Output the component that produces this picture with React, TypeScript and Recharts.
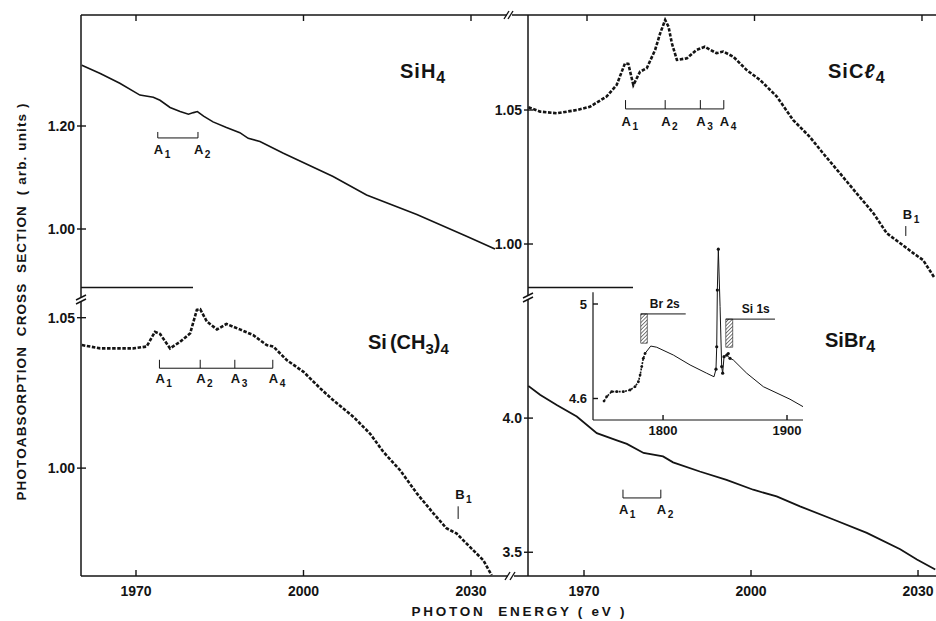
import React from 'react';
import { ComposedChart, Line, XAxis, YAxis, ReferenceLine, ReferenceDot, ReferenceArea } from 'recharts';

const INK = '#141414';
const FONT = "'Liberation Sans', Arial, Helvetica, sans-serif";

// ---------------- data ----------------
const xTicks = [1970, 2000, 2030];
const insetXTicks = [1800, 1900];

// SiH4 (top left)
const siH4E = [1960.3, 1963.6, 1967.1, 1970.7, 1973.1, 1974.3, 1976.1, 1977.9, 1979.4, 1980.3, 1981.0, 1982.1, 1983.8, 1986.2, 1988.6, 1990.1, 1992.2, 1996.4, 2005.3, 2011.3, 2020.3, 2029.2, 2034.3];
const siH4V = [1.318, 1.302, 1.283, 1.260, 1.256, 1.250, 1.236, 1.228, 1.223, 1.226, 1.228, 1.219, 1.208, 1.197, 1.187, 1.176, 1.170, 1.147, 1.102, 1.066, 1.028, 0.986, 0.961];
const siH4YTicks = [1.0, 1.2];
const siH4Marks = [1973.9, 1981.1];
const siH4MarkLevel = [1.1768, 1.1884];

// SiCl4 (top right)
const siCl4E = [1959.5, 1961.6, 1964.6, 1968.2, 1970.5, 1973.5, 1975.3, 1976.8, 1977.4, 1978.3, 1979.5, 1980.7, 1982.2, 1983.1, 1984.0, 1984.6, 1985.2, 1986.1, 1987.9, 1989.6, 1991.1, 1993.2, 1994.4, 1996.2, 1998.6, 2001.0, 2004.0, 2006.9, 2009.9, 2012.3, 2015.3, 2018.3, 2021.3, 2023.7, 2026.1, 2028.5, 2030.2, 2032.3];
const siCl4V = [1.051, 1.0494, 1.0488, 1.05, 1.0512, 1.055, 1.0593, 1.0674, 1.0672, 1.0593, 1.0643, 1.0656, 1.0724, 1.0786, 1.0836, 1.0811, 1.0749, 1.0687, 1.0693, 1.0724, 1.0736, 1.0712, 1.0718, 1.0699, 1.0649, 1.0612, 1.055, 1.0463, 1.04, 1.0338, 1.0264, 1.0189, 1.0115, 1.004, 1.0003, 0.9965, 0.994, 0.9872];
const siCl4YTicks = [1.0, 1.05];
const siCl4Marks = [1976.9, 1984.0, 1990.3, 1994.5];
const siCl4MarkLevel = [1.0504, 1.0537];
const siCl4B1 = [2027.1, 1.003, 1.0067];

// Si(CH3)4 (bottom left)
const tmsE = [1960.3, 1963.6, 1966.5, 1969.5, 1971.9, 1973.4, 1974.3, 1976.1, 1977.9, 1979.7, 1980.9, 1981.5, 1982.7, 1984.5, 1986.2, 1988.6, 1991.0, 1993.4, 1994.6, 1997.0, 2000.0, 2003.0, 2005.3, 2008.9, 2011.9, 2014.3, 2017.3, 2020.3, 2023.3, 2025.6, 2027.4, 2029.8, 2032.2, 2033.7];
const tmsV = [1.0409, 1.0398, 1.0398, 1.0398, 1.0404, 1.0453, 1.0446, 1.0398, 1.042, 1.0448, 1.0526, 1.0528, 1.0487, 1.0461, 1.0479, 1.0461, 1.0442, 1.0409, 1.0404, 1.0359, 1.032, 1.0265, 1.0226, 1.0171, 1.0115, 1.0054, 0.9993, 0.9916, 0.9849, 0.98, 0.9783, 0.9738, 0.9694, 0.9644];
const tmsYTicks = [1.0, 1.05];
const tmsMarks = [1974.2, 1981.5, 1987.7, 1994.5];
const tmsMarkLevel = [1.0332, 1.036];
const tmsB1 = [2027.7, 0.9831, 0.9873];

// SiBr4 (bottom right)
const siBr4E = [1960.0, 1962.1, 1965.1, 1968.7, 1972.3, 1975.9, 1977.7, 1980.7, 1984.2, 1986.0, 1990.8, 1995.6, 2000.4, 2004.6, 2008.8, 2014.8, 2020.8, 2026.8, 2029.8, 2033.1];
const siBr4V = [4.12, 4.0867, 4.049, 4.006, 3.944, 3.917, 3.904, 3.87, 3.857, 3.835, 3.801, 3.77, 3.733, 3.708, 3.671, 3.622, 3.572, 3.511, 3.473, 3.436];
const siBr4YTicks = [3.5, 4.0];
const siBr4Marks = [1977.0, 1983.8];
const siBr4MarkLevel = [3.7024, 3.7333];

// SiBr4 wide-range inset
const insetDotE = [1752.4, 1754.6, 1758.6, 1762.7, 1768.0, 1773.4, 1777.4, 1780.1, 1781.5, 1782.8, 1784.1, 1785.5];
const insetDotV = [4.589, 4.608, 4.629, 4.629, 4.629, 4.636, 4.65, 4.671, 4.699, 4.735, 4.77, 4.791];
const insetLineE = [1785.5, 1790.1, 1794.9, 1808.3, 1821.8, 1835.2, 1841.1, 1842.7, 1843.3, 1843.8, 1844.6, 1846.0, 1847.3, 1848.1, 1849.2, 1851.4, 1854.0, 1856.7, 1867.5, 1880.9, 1902.4, 1913.1];
const insetLineV = [4.791, 4.822, 4.817, 4.784, 4.742, 4.707, 4.692, 4.724, 4.819, 5.059, 5.232, 4.989, 4.735, 4.707, 4.777, 4.784, 4.77, 4.763, 4.707, 4.65, 4.597, 4.565];
const insetSpikeE = [1842.7, 1843.3, 1843.8, 1844.6, 1847.3, 1848.1, 1849.2, 1851.4, 1852.6, 1854.0];
const insetSpikeV = [4.724, 4.819, 5.059, 5.232, 4.735, 4.707, 4.777, 4.784, 4.79, 4.77];
const insetYTicks = [4.6, 5.0];
const edgeNames = ['Br 2s', 'Si 1s'];
const edgeStart = [1782.0, 1850.6];
const edgeBoxEnd = [1787.3, 1856.2];
const edgeLineEnd = [1818.3, 1890.3];
const edgeTop = [4.958, 4.936];
const edgeBottom = [4.834, 4.817];

const zip = (es: number[], vs: number[]) => es.map((e, i) => ({ e, v: vs[i] }));
const siH4 = zip(siH4E, siH4V);
const siCl4 = zip(siCl4E, siCl4V);
const tms = zip(tmsE, tmsV);
const siBr4 = zip(siBr4E, siBr4V);
const insetDots = zip(insetDotE, insetDotV);
const insetLine = zip(insetLineE, insetLineV);
const insetSpike = zip(insetSpikeE, insetSpikeV);

// ---------------- domains ----------------
const TL_X = [1960.15, 2036.27];
const TL_Y = [0.8874, 1.4155];
const TR_X = [1959.43, 2032.51];
const TR_Y = [0.98396, 1.08545];
const BL_X = [1960.15, 2036.27];
const BL_Y = [0.96414, 1.05521];
const BR_X = [1959.94, 2033.23];
const BR_Y = [3.4115, 4.4327];
const IN_X = [1743.5, 1912.9];
const IN_Y = [4.509, 5.2709];

// ---------------- ticks ----------------
const axisLine = { stroke: INK, strokeWidth: 1.5 };

const TopTick = (p: any) => (
  <line x1={p.x} y1={p.y} x2={p.x} y2={p.y + 6} stroke={INK} strokeWidth={1.4} />
);

const BottomTick = (size: number, up: number, off: number) => (p: any) => (
  <g>
    <line x1={p.x} y1={p.y} x2={p.x} y2={p.y - up} stroke={INK} strokeWidth={1.4} />
    <text x={p.x} y={p.y + off} textAnchor="middle" fontFamily={FONT} fontWeight="bold" fontSize={size} fill={INK}>
      {p.payload.value}
    </text>
  </g>
);

const fmtFixed = (digits: number) => (v: number) => v.toFixed(digits);
const fmtShort = (v: number) => (Math.abs(v - Math.round(v)) < 1e-9 ? String(Math.round(v)) : v.toFixed(1));

const LeftTick = (fmt: (v: number) => string, inward: boolean, size: number) => (p: any) => {
  const label = fmt(Number(p.payload.value));
  return (
    <g>
      <line x1={inward ? p.x : p.x - 4} y1={p.y} x2={p.x + 5} y2={p.y} stroke={INK} strokeWidth={1.4} />
      <text x={p.x - 6} y={p.y} dy="0.35em" textAnchor="end" fontFamily={FONT} fontWeight="bold" fontSize={size} fill={INK}>
        {label}
      </text>
    </g>
  );
};

// label drawn at a data point with a pixel offset
const subText = (main: string, sub: string, dx: number, dy: number, size = 13) => (p: any) => (
  <text x={p.cx + dx} y={p.cy + dy} fontFamily={FONT} fontWeight="bold" fontSize={size} fill={INK}>
    {main}
    <tspan fontSize={size * 0.78} dy={4} dx={1.5}>{sub}</tspan>
  </text>
);

const plainText = (t: string, dx: number, dy: number, size = 12) => (p: any) => (
  <text x={p.cx + dx} y={p.cy + dy} fontFamily={FONT} fontWeight="bold" fontSize={size} fill={INK}>
    {t}
  </text>
);

const thin = { stroke: INK, strokeWidth: 1 };

function bracket(marks: number[], level: number[], labelDy: number, keyp: string) {
  const out: any[] = [];
  out.push(
    <ReferenceLine key={keyp + 'h'} segment={[{ x: marks[0], y: level[0] }, { x: marks[marks.length - 1], y: level[0] }]} {...thin} ifOverflow="visible" />
  );
  marks.forEach((m, i) => {
    out.push(
      <ReferenceLine key={keyp + 't' + i} segment={[{ x: m, y: level[0] }, { x: m, y: level[1] }]} {...thin} ifOverflow="visible" />
    );
    out.push(
      <ReferenceDot key={keyp + 'l' + i} x={m} y={level[0]} r={0} ifOverflow="visible" shape={subText('A', String(i + 1), -4, labelDy)} />
    );
  });
  return out;
}

function bMark(b: number[], keyp: string) {
  return [
    <ReferenceLine key={keyp + 'bl'} segment={[{ x: b[0], y: b[1] }, { x: b[0], y: b[2] }]} {...thin} ifOverflow="visible" />,
    <ReferenceDot key={keyp + 'bt'} x={b[0]} y={b[2]} r={0} ifOverflow="visible" shape={subText('B', '1', -3, -7)} />,
  ];
}

const dotted = { stroke: INK, strokeWidth: 2.6, strokeDasharray: '3.5 1.6', dot: false, isAnimationActive: false, type: 'linear' as const };

const abs = (left: number, top: number): React.CSSProperties => ({ position: 'absolute', left, top });

export default function App() {
  return (
    <div style={{ position: 'absolute', left: 0, top: 0, width: 936, height: 621, overflow: 'hidden', background: '#fff' }}>
      {/* top left: SiH4 */}
      <div style={abs(0, 0)}>
        <ComposedChart width={520} height={300} margin={{ top: 0, right: 14, bottom: 13, left: 0 }}>
          <XAxis type="number" dataKey="e" orientation="top" domain={TL_X} allowDataOverflow ticks={xTicks} interval={0} height={15} tickSize={0} tickMargin={0} tickLine={false} axisLine={axisLine} tick={TopTick} />
          <YAxis type="number" domain={TL_Y} allowDataOverflow ticks={siH4YTicks} interval={0} width={81} tickSize={0} tickMargin={0} tickLine={false} axisLine={axisLine} tick={LeftTick(fmtFixed(2), false, 14)} />
          <Line data={siH4} dataKey="v" type="linear" stroke={INK} strokeWidth={1.6} dot={false} isAnimationActive={false} />
          {bracket(siH4Marks, siH4MarkLevel, 16, 'h')}
        </ComposedChart>
      </div>

      {/* top right: SiCl4 */}
      <div style={abs(470, 0)}>
        <ComposedChart width={466} height={300} margin={{ top: 0, right: 0, bottom: 13, left: 0 }}>
          <XAxis type="number" dataKey="e" orientation="top" domain={TR_X} allowDataOverflow ticks={xTicks} interval={0} height={15} tickSize={0} tickMargin={0} tickLine={false} axisLine={axisLine} tick={TopTick} />
          <YAxis type="number" domain={TR_Y} allowDataOverflow ticks={siCl4YTicks} interval={0} width={58} tickSize={0} tickMargin={0} tickLine={false} axisLine={axisLine} tick={LeftTick(fmtFixed(2), false, 14)} />
          <Line data={siCl4} dataKey="v" {...dotted} />
          {bracket(siCl4Marks, siCl4MarkLevel, 17, 'c')}
          {bMark(siCl4B1, 'c')}
        </ComposedChart>
      </div>

      {/* bottom left: Si(CH3)4 */}
      <div style={abs(0, 290)}>
        <ComposedChart width={520} height={331} margin={{ top: 12, right: 14, bottom: 15, left: 0 }}>
          <XAxis type="number" dataKey="e" orientation="bottom" domain={BL_X} allowDataOverflow ticks={xTicks} interval={0} height={30} tickSize={0} tickMargin={0} tickLine={false} axisLine={axisLine} tick={BottomTick(14, 6, 19.5)} />
          <YAxis type="number" domain={BL_Y} allowDataOverflow ticks={tmsYTicks} interval={0} width={81} tickSize={0} tickMargin={0} tickLine={false} axisLine={axisLine} tick={LeftTick(fmtFixed(2), false, 14)} />
          <Line data={tms} dataKey="v" {...dotted} />
          {bracket(tmsMarks, tmsMarkLevel, 15, 'm')}
          {bMark(tmsB1, 'm')}
        </ComposedChart>
      </div>

      {/* bottom right: SiBr4 */}
      <div style={abs(470, 290)}>
        <ComposedChart width={466} height={331} margin={{ top: 12, right: 0, bottom: 15, left: 0 }}>
          <XAxis type="number" dataKey="e" orientation="bottom" domain={BR_X} allowDataOverflow ticks={xTicks} interval={0} height={30} tickSize={0} tickMargin={0} tickLine={false} axisLine={axisLine} tick={BottomTick(14, 6, 19.5)} />
          <YAxis type="number" domain={BR_Y} allowDataOverflow ticks={siBr4YTicks} interval={0} width={58} tickSize={0} tickMargin={0} tickLine={false} axisLine={axisLine} tick={LeftTick(fmtFixed(1), false, 14)} />
          <Line data={siBr4} dataKey="v" type="linear" stroke={INK} strokeWidth={1.8} dot={false} isAnimationActive={false} />
          {bracket(siBr4Marks, siBr4MarkLevel, 16, 'b')}
        </ComposedChart>
      </div>

      {/* inset: SiBr4 wide range */}
      <div style={abs(560, 230)}>
        <ComposedChart width={250} height={215} margin={{ top: 10, right: 7, bottom: 0, left: 0 }}>
          <defs>
            <pattern id="hatch" width="2.6" height="2.6" patternUnits="userSpaceOnUse" patternTransform="rotate(45)">
              <line x1="0" y1="0" x2="0" y2="2.6" stroke={INK} strokeWidth="1.1" />
            </pattern>
          </defs>
          <XAxis type="number" dataKey="e" orientation="bottom" domain={IN_X} allowDataOverflow ticks={insetXTicks} interval={0} height={25} tickSize={0} tickMargin={0} tickLine={false} axisLine={{ stroke: INK, strokeWidth: 1.2 }} tick={BottomTick(13, 5, 14.5)} />
          <YAxis type="number" domain={IN_Y} allowDataOverflow ticks={insetYTicks} interval={0} width={33} tickSize={0} tickMargin={0} tickLine={false} axisLine={false} tick={LeftTick(fmtShort, true, 13)} />
          <ReferenceLine segment={[{ x: IN_X[0], y: IN_Y[0] }, { x: IN_X[0], y: 5.05 }]} stroke={INK} strokeWidth={1.2} ifOverflow="visible" />
          {edgeNames.map((n, i) => (
            <ReferenceArea key={'ea' + i} x1={edgeStart[i]} x2={edgeBoxEnd[i]} y1={edgeBottom[i]} y2={edgeTop[i]} fill="url(#hatch)" fillOpacity={1} stroke={INK} strokeWidth={0.6} ifOverflow="visible" />
          ))}
          {edgeNames.map((n, i) => (
            <ReferenceLine key={'el' + i} segment={[{ x: edgeStart[i], y: edgeTop[i] }, { x: edgeLineEnd[i], y: edgeTop[i] }]} {...thin} ifOverflow="visible" />
          ))}
          {edgeNames.map((n, i) => (
            <ReferenceDot key={'et' + i} x={edgeStart[i]} y={edgeTop[i]} r={0} ifOverflow="visible" shape={plainText(n, i === 0 ? 9 : 16, -6, 12)} />
          ))}
          <Line data={insetDots} dataKey="v" type="linear" stroke={INK} strokeWidth={1.6} strokeDasharray="2 1.2" dot={{ r: 1.4, fill: INK, stroke: 'none' }} isAnimationActive={false} />
          <Line data={insetLine} dataKey="v" type="linear" stroke={INK} strokeWidth={1} dot={false} isAnimationActive={false} />
          <Line data={insetSpike} dataKey="v" type="linear" stroke="none" dot={{ r: 1.6, fill: INK, stroke: 'none' }} isAnimationActive={false} />
        </ComposedChart>
      </div>

      {/* decorations: axis breaks, titles, compound names */}
      <svg width={936} height={621} style={{ position: 'absolute', left: 0, top: 0, pointerEvents: 'none' }}>
        {/* top axis connection with break */}
        <line x1={506} y1={15} x2={528} y2={15} stroke={INK} strokeWidth={1.5} />
        <rect x={507} y={11} width={5} height={8} fill="#fff" />
        <line x1={504} y1={19} x2={509} y2={11} stroke={INK} strokeWidth={1.4} />
        <line x1={508} y1={19} x2={513} y2={11} stroke={INK} strokeWidth={1.4} />
        {/* bottom axis connection with break */}
        <line x1={506} y1={576} x2={528} y2={576} stroke={INK} strokeWidth={1.5} />
        <rect x={508} y={572} width={6} height={8} fill="#fff" />
        <line x1={505} y1={580} x2={510} y2={572} stroke={INK} strokeWidth={1.4} />
        <line x1={510} y1={580} x2={515} y2={572} stroke={INK} strokeWidth={1.4} />
        {/* left column vertical axis break */}
        <line x1={81} y1={287} x2={81} y2={302} stroke={INK} strokeWidth={1.5} />
        <rect x={77} y={298} width={8} height={4} fill="#fff" />
        <line x1={76} y1={300} x2={86} y2={295} stroke={INK} strokeWidth={1.4} />
        <line x1={76} y1={304} x2={86} y2={299} stroke={INK} strokeWidth={1.4} />
        {/* right column vertical axis break */}
        <line x1={528} y1={287} x2={528} y2={302} stroke={INK} strokeWidth={1.5} />
        <rect x={524} y={296} width={8} height={4} fill="#fff" />
        <line x1={523} y1={298} x2={533} y2={293} stroke={INK} strokeWidth={1.4} />
        <line x1={523} y1={302} x2={533} y2={297} stroke={INK} strokeWidth={1.4} />
        {/* short bottom stubs of the upper panels */}
        <line x1={81} y1={287.5} x2={193} y2={287.5} stroke={INK} strokeWidth={1.3} />
        <line x1={528} y1={287.5} x2={633} y2={287.5} stroke={INK} strokeWidth={1.3} />

        {/* compound names */}
        <text x={400} y={78} fontFamily={FONT} fontWeight="bold" fontSize={20} fill={INK} letterSpacing={1}>
          SiH<tspan fontSize={16} dy={5}>4</tspan>
        </text>
        <text x={828} y={78} fontFamily={FONT} fontWeight="bold" fontSize={20} fill={INK} letterSpacing={1}>
          SiC<tspan fontStyle="italic">ℓ</tspan><tspan fontSize={16} dy={5}>4</tspan>
        </text>
        <text x={368} y={349} fontFamily={FONT} fontWeight="bold" fontSize={20} fill={INK}>
          Si<tspan dx={3}>(CH</tspan><tspan fontSize={15} dy={5}>3</tspan><tspan dy={-5}>)</tspan><tspan fontSize={15} dy={5}>4</tspan>
        </text>
        <text x={825} y={347} fontFamily={FONT} fontWeight="bold" fontSize={20} fill={INK}>
          SiBr<tspan fontSize={16} dy={5}>4</tspan>
        </text>

        {/* axis titles */}
        <text x={518} y={616} textAnchor="middle" fontFamily={FONT} fontWeight="bold" fontSize={13.5} fill={INK} textLength={213} lengthAdjust="spacing" style={{ whiteSpace: 'pre' }}>
          PHOTON  ENERGY ( eV )
        </text>
        <text x={0} y={0} transform="translate(26,302) rotate(-90)" textAnchor="middle" fontFamily={FONT} fontWeight="bold" fontSize={13.5} fill={INK} textLength={397} lengthAdjust="spacing" style={{ whiteSpace: 'pre' }}>
          PHOTOABSORPTION  CROSS  SECTION  ( arb. units )
        </text>
      </svg>
    </div>
  );
}
